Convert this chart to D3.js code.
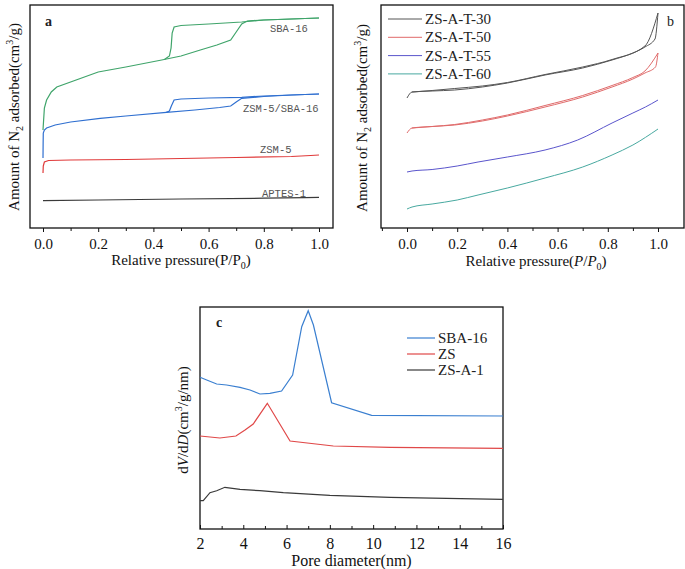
<!DOCTYPE html>
<html><head><meta charset="utf-8">
<script src="https://cdn.jsdelivr.net/npm/d3@7"></script>
<style>body{margin:0;background:#fff}svg{display:block}</style>
</head><body><svg id="c" width="685" height="569" font-family="'Liberation Serif','Times New Roman',Times,'DejaVu Serif',serif"></svg>
<script>
// ---------- Panel a data (relative pressure, amount in arbitrary units) ----------
const sbaAds = [[0,98],[0.005,120],[0.013,128],[0.03,136],[0.05,141],[0.12,148],[0.2,156],[0.3,161],[0.43,168],[0.5,172],[0.57,178],[0.63,183],[0.68,188],[0.70,196],[0.72,204],[0.74,207],[0.8,208],[0.9,209],[1.0,210]];
const sbaDes = [[1.0,210],[0.8,208],[0.72,206],[0.6,204],[0.5,202.5],[0.475,201],[0.468,195],[0.464,180],[0.458,172],[0.44,168.5]];
const zsbAds = [[0,70],[0.0005,85],[0.001,95],[0.005,98],[0.013,100],[0.044,103],[0.1,106],[0.207,109.7],[0.3,112],[0.437,115.3],[0.55,118],[0.64,120.5],[0.68,122],[0.70,126],[0.72,129.7],[0.8,131.5],[0.9,133],[1.0,134]];
const zsbDes = [[1.0,134],[0.8,132],[0.72,130.7],[0.6,130],[0.5,129],[0.475,128],[0.465,122],[0.458,117],[0.445,115.5]];
const zsmIso = [[0,55],[0.001,62],[0.005,66],[0.02,67.5],[0.1,68],[0.3,68.5],[0.5,69.5],[0.7,70.5],[0.9,71.5],[0.97,72.5],[1.0,73]];
const aptesIso = [[0,27.3],[0.2,28],[0.5,29],[0.8,29.8],[0.95,30.3],[1.0,30.7]];
const labelsA = ["SBA-16","ZSM-5/SBA-16","ZSM-5","APTES-1"];
const xTicksAB = [0,0.2,0.4,0.6,0.8,1.0];

// ---------- Panel b data ----------
const t30Ads = [[0,130],[0.02,136],[0.1,137],[0.19,138],[0.3,141],[0.4,145],[0.55,153],[0.7,160],[0.817,168],[0.9,175],[0.948,181],[0.988,189],[1.0,215]];
const t30Des = [[1.0,215],[0.948,182],[0.817,168.5],[0.7,161],[0.55,153.5],[0.4,145.5],[0.3,142],[0.19,139.5],[0.1,137.5],[0.02,136]];
const t50Ads = [[0,95],[0.02,100],[0.1,101.5],[0.19,103],[0.3,107],[0.4,112],[0.55,121],[0.7,131],[0.817,141],[0.9,149],[0.948,155],[0.99,161],[1.0,175]];
const t50Des = [[1.0,175],[0.948,157],[0.9,150.5],[0.817,142.5],[0.7,132.5],[0.55,122.5],[0.4,113],[0.3,108],[0.19,103.5],[0.1,101.5],[0.02,100]];
const t55Iso = [[0,56],[0.02,57],[0.1,58.5],[0.2,62],[0.283,66],[0.4,71],[0.55,78],[0.68,88],[0.817,105],[0.9,115],[0.95,121],[1.0,128]];
const t60Iso = [[0,19],[0.02,21],[0.1,24],[0.2,28],[0.283,33],[0.4,40],[0.55,50],[0.7,61],[0.817,73],[0.9,83],[1.0,99]];
const legendB = ["ZS-A-T-30","ZS-A-T-50","ZS-A-T-55","ZS-A-T-60"];

// ---------- Panel c data (pore diameter nm, dV/dD arbitrary) ----------
const sbaPsd = [[2,151.7],[2.31,149],[2.77,145],[3.23,144],[3.85,141.7],[4.31,139],[4.77,135],[5.23,135.7],[5.77,138],[6.28,154],[6.7,202.3],[7.0,218.3],[7.24,204],[8.08,126.3],[9.93,113.7],[16,113]];
const zsPsd = [[2,93],[2.92,91],[3.66,93],[4.08,99],[4.46,105],[5.11,125.7],[6.16,88],[8.16,83],[10.78,81.7],[16,80.7]];
const zsaPsd = [[2,28.3],[2.15,28.3],[2.46,36.3],[2.77,38.3],[3.15,41.7],[3.85,39.7],[4.77,38.3],[5.85,36.3],[8,33.7],[10.78,31.7],[16,29.7]];
const legendC = ["SBA-16","ZS","ZS-A-1"];
const xTicksC = [2,4,6,8,10,12,14,16];

const SERIF = "'Liberation Serif','Times New Roman',Times,'DejaVu Serif',serif";
const svg = d3.select("#c");
const line = (x,y)=>d3.line().x(d=>x(d[0])).y(d=>y(d[1]));
const smooth = (x,y)=>d3.line().curve(d3.curveMonotoneX).x(d=>x(d[0])).y(d=>y(d[1]));
const asc = d=>d.slice().sort((a,b)=>a[0]-b[0]);

function frame(g,x0,y0,x1,y1){
  g.append("rect").attr("x",x0).attr("y",y0).attr("width",x1-x0).attr("height",y1-y0)
   .attr("fill","none").attr("stroke","#111").attr("stroke-width",1.3);
}
function styleAxis(ga,fs){
  ga.attr("font-family",SERIF);
  ga.select(".domain").remove();
  ga.selectAll("text").attr("font-size",fs).attr("font-family",SERIF).attr("fill","#111");
  ga.selectAll("line").attr("stroke","#111");
}
function yLabelIso(g,x,y){
  const t=g.append("text").attr("transform",`translate(${x},${y}) rotate(-90)`).attr("text-anchor","middle").attr("font-family",SERIF).attr("font-size",15).attr("fill","#111");
  t.append("tspan").text("Amount of N");
  t.append("tspan").attr("font-size",10).attr("dy",4).text("2");
  t.append("tspan").attr("dy",-4).text(" adsorbed(cm");
  t.append("tspan").attr("font-size",10).attr("dy",-6).text("3");
  t.append("tspan").attr("dy",6).text("/g)");
}
function xTitleIso(g,x,y,ital){
  const t=g.append("text").attr("x",x).attr("y",y).attr("text-anchor","middle").attr("font-family",SERIF).attr("font-size",15).attr("fill","#111");
  t.append("tspan").text("Relative pressure(");
  t.append("tspan").attr("font-style",ital?"italic":"normal").text("P");
  t.append("tspan").text("/");
  t.append("tspan").attr("font-style",ital?"italic":"normal").text("P");
  t.append("tspan").attr("font-size",10).attr("dy",4).text("0");
  t.append("tspan").attr("dy",-4).text(")");
}

// ================= Panel a =================
{
  const g=svg.append("g");
  const x=d3.scaleLinear().domain([0,1]).range([43,319]);
  const y=d3.scaleLinear().domain([0,223]).range([228,5]);
  frame(g,30,5,333,228);
  const ax=d3.axisBottom(x).tickValues(xTicksAB).tickFormat(d3.format(".1f")).tickSize(4).tickPadding(6).tickSizeOuter(0);
  const ga=g.append("g").attr("transform","translate(0,228)").call(ax);
  styleAxis(ga,15);
  ga.selectAll("text").attr("dy","0.71em");
  const gm=g.append("g").attr("transform","translate(0,228)").call(d3.axisBottom(x).tickValues([0.1,0.3,0.5,0.7,0.9]).tickSize(3).tickFormat(""));
  styleAxis(gm,10);
  const series=[[sbaAds,"#3fa46a"],[sbaDes,"#3fa46a"],[zsbAds,"#2f6fd0"],[zsbDes,"#2f6fd0"],[zsmIso,"#e03a3a"],[aptesIso,"#3a3a3a"]];
  series.forEach(([d,c])=>g.append("path").attr("d",line(x,y)(d)).attr("fill","none").attr("stroke",c).attr("stroke-width",1.2));
  const lp=[[270,32],[243,112],[260,153],[262,197]];
  labelsA.forEach((t,i)=>g.append("text").attr("x",lp[i][0]).attr("y",lp[i][1]).attr("font-family","'Liberation Mono',monospace").attr("font-size",10.5).attr("fill","#555").text(t));
  g.append("text").attr("x",45).attr("y",26).attr("font-family",SERIF).attr("font-size",14).attr("font-weight","bold").attr("fill","#222").text("a");
  yLabelIso(g,19,117);
  xTitleIso(g,181,265,false);
}

// ================= Panel b =================
{
  const g=svg.append("g");
  const x=d3.scaleLinear().domain([0,1]).range([407,658]);
  const y=d3.scaleLinear().domain([0,223]).range([228,5]);
  frame(g,381,5,684,228);
  const ax=d3.axisBottom(x).tickValues(xTicksAB).tickFormat(d3.format(".1f")).tickSize(4).tickPadding(6).tickSizeOuter(0);
  const ga=g.append("g").attr("transform","translate(0,228)").call(ax);
  styleAxis(ga,15);
  ga.selectAll("text").attr("dy","0.71em");
  const gm=g.append("g").attr("transform","translate(0,228)").call(d3.axisBottom(x).tickValues([-0.1,0.1,0.3,0.5,0.7,0.9]).tickSize(3).tickFormat(""));
  styleAxis(gm,10);
  const cols=["#555555","#e06a6a","#5a55cc","#48a9a0"];
  const series=[[t30Ads,cols[0]],[t30Des,cols[0]],[t50Ads,cols[1]],[t50Des,cols[1]],[t55Iso,cols[2]],[t60Iso,cols[3]]];
  series.forEach(([d,c])=>g.append("path").attr("d",smooth(x,y)(asc(d))).attr("fill","none").attr("stroke",c).attr("stroke-width",1));
  legendB.forEach((t,i)=>{
    const yy=19+i*18.3;
    g.append("line").attr("x1",388).attr("x2",422).attr("y1",yy).attr("y2",yy).attr("stroke",cols[i]).attr("stroke-width",1);
    g.append("text").attr("x",425).attr("y",yy+5).attr("font-family",SERIF).attr("font-size",15).attr("fill","#222").text(t);
  });
  g.append("text").attr("x",667).attr("y",26).attr("font-family",SERIF).attr("font-size",14).attr("fill","#222").text("b");
  yLabelIso(g,367,118);
  xTitleIso(g,536,266,true);
}

// ================= Panel c =================
{
  const g=svg.append("g");
  const x=d3.scaleLinear().domain([2,16]).range([200,503]);
  const y=d3.scaleLinear().domain([0,222]).range([529,307]);
  frame(g,200,307,503,529);
  const ax=d3.axisBottom(x).tickValues(xTicksC).tickFormat(d3.format("d")).tickSize(-4).tickSizeOuter(0);
  const ga=g.append("g").attr("transform","translate(0,529)").call(ax);
  styleAxis(ga,16);
  ga.selectAll("text").attr("y",9).attr("dy","0.71em");
  const gm=g.append("g").attr("transform","translate(0,529)").call(d3.axisBottom(x).tickValues([3,5,7,9,11,13,15]).tickSize(-3).tickFormat(""));
  styleAxis(gm,10);
  const cols=["#3a7fd0","#e04848","#3a3a3a"];
  [sbaPsd,zsPsd,zsaPsd].forEach((d,i)=>g.append("path").attr("d",line(x,y)(d)).attr("fill","none").attr("stroke",cols[i]).attr("stroke-width",1.2));
  legendC.forEach((t,i)=>{
    const yy=338+i*16;
    g.append("line").attr("x1",407).attr("x2",435).attr("y1",yy).attr("y2",yy).attr("stroke",cols[i]).attr("stroke-width",1.2);
    g.append("text").attr("x",438).attr("y",yy+5).attr("font-family",SERIF).attr("font-size",15).attr("fill","#222").text(t);
  });
  g.append("text").attr("x",216).attr("y",327).attr("font-family",SERIF).attr("font-size",14).attr("font-weight","bold").attr("fill","#222").text("c");
  const t=g.append("text").attr("transform","translate(188,420) rotate(-90)").attr("text-anchor","middle").attr("font-family",SERIF).attr("font-size",15).attr("fill","#111");
  t.append("tspan").text("d");
  t.append("tspan").attr("font-style","italic").text("V");
  t.append("tspan").text("/d");
  t.append("tspan").attr("font-style","italic").text("D");
  t.append("tspan").text("(cm");
  t.append("tspan").attr("font-size",10).attr("dy",-6).text("3");
  t.append("tspan").attr("dy",6).text("/g/nm)");
  g.append("text").attr("x",351.5).attr("y",566).attr("text-anchor","middle").attr("font-family",SERIF).attr("font-size",16).attr("fill","#111").text("Pore diameter(nm)");
}
</script></body></html>
